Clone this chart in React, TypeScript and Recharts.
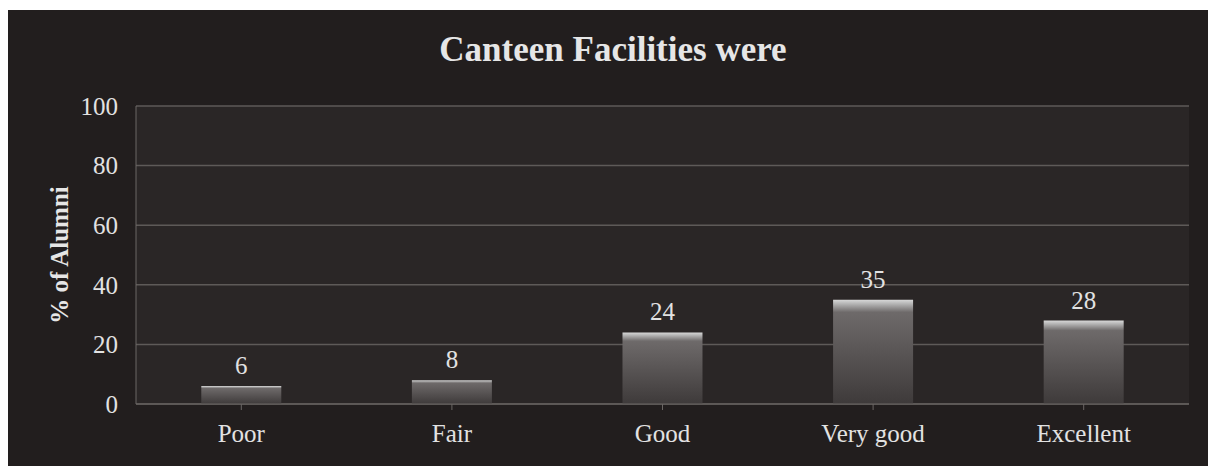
import React from 'react';
import { BarChart, Bar, XAxis, YAxis, CartesianGrid, LabelList, Label } from 'recharts';

const categories = ['Poor', 'Fair', 'Good', 'Very good', 'Excellent'];
const percentValues = [6, 8, 24, 35, 28];
const yTicks = [0, 20, 40, 60, 80, 100];

const data = categories.map((name, i) => ({ name, value: percentValues[i] }));

const FONT = '"Liberation Serif", "Times New Roman", serif';

export default function App() {
  return (
    <div
      style={{
        position: 'relative',
        width: 1203,
        height: 456,
        marginTop: 2,
        marginLeft: -1,
        background: '#221e1e',
        fontFamily: FONT,
      }}
    >
      <div
        style={{
          position: 'absolute',
          left: 0,
          width: 1212,
          top: 20,
          textAlign: 'center',
          color: '#e6e6e6',
          fontWeight: 'bold',
          fontSize: 35,
          lineHeight: '40px',
          fontFamily: FONT,
        }}
      >
        Canteen Facilities were
      </div>
      <BarChart
        width={1203}
        height={456}
        data={data}
        margin={{ top: 96, right: 21, bottom: 22, left: 18 }}
        barCategoryGap="31%"
      >
        <defs>
          <linearGradient id="barGrad" x1="0" y1="0" x2="0" y2="1">
            <stop offset="0" stopColor="#d8d8d8" />
            <stop offset="0.03" stopColor="#bdbdbd" />
            <stop offset="0.12" stopColor="#6e6a6a" />
            <stop offset="1" stopColor="#3e3a3a" />
          </linearGradient>
        </defs>
        <CartesianGrid vertical={false} stroke="#5e5a58" strokeWidth={1.5} fill="#2a2626" fillOpacity={1} />
        <XAxis
          dataKey="name"
          stroke="#6a6664"
          tickSize={6}
          height={40}
          tick={{ fill: '#e2e2e2', fontSize: 25, fontFamily: FONT, dy: 12 }}
          interval={0}
        />
        <YAxis
          domain={[0, 100]}
          ticks={yTicks}
          width={111}
          stroke="#6a6664"
          tickLine={false}
          tickMargin={12}
          tick={{ fill: '#e2e2e2', fontSize: 25, fontFamily: FONT }}
        >
          <Label
            value="% of Alumni"
            angle={-90}
            position="insideLeft"
            offset={34}
            style={{ fill: '#e6e6e6', fontSize: 25, fontWeight: 'bold', fontFamily: FONT, textAnchor: 'middle' }}
          />
        </YAxis>
        <Bar dataKey="value" fill="url(#barGrad)" isAnimationActive={false}>
          <LabelList
            dataKey="value"
            position="top"
            offset={12}
            style={{ fill: '#e2e2e2', fontSize: 25, fontFamily: FONT }}
          />
        </Bar>
      </BarChart>
    </div>
  );
}
